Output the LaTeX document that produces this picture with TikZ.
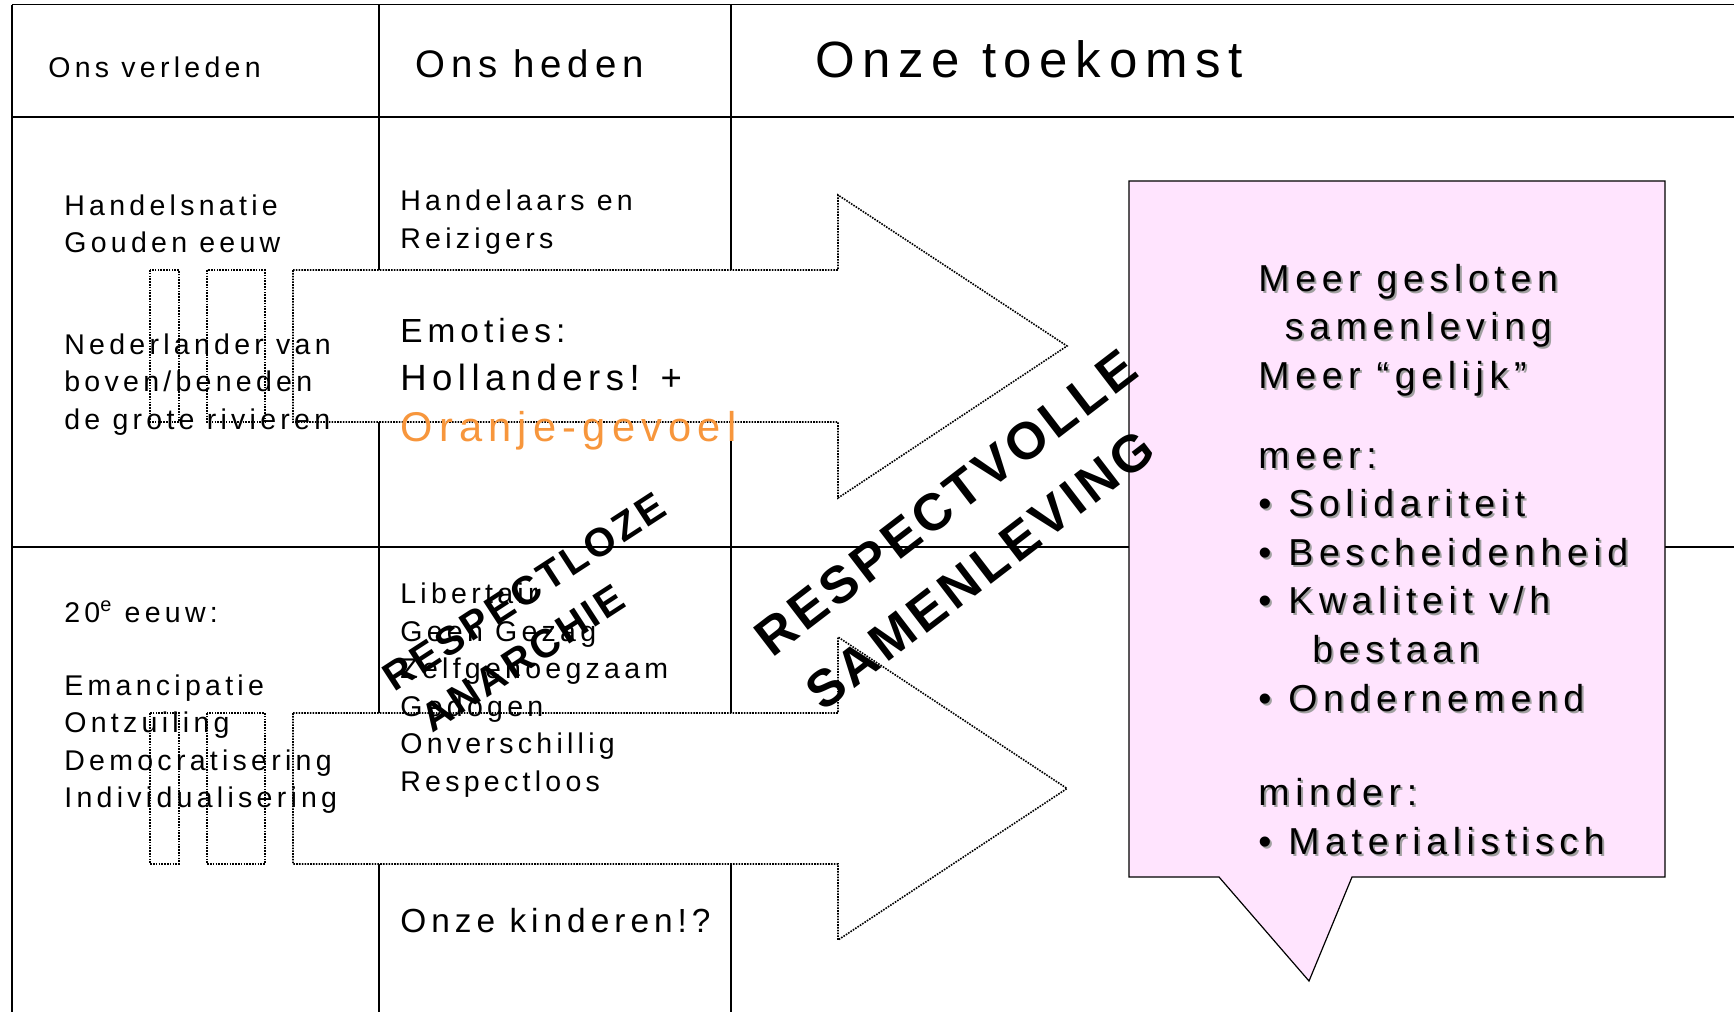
\documentclass[tikz,border=0pt]{standalone}
\usepackage{fontspec}
\setmainfont{Liberation Sans}[LetterSpace=15]
\usepackage{xcolor}

\definecolor{pinkbg}{RGB}{255,228,254}
\definecolor{oranje}{RGB}{247,150,60}
\definecolor{shadowgray}{RGB}{160,160,160}

\newcommand{\bul}{\makebox[15pt][l]{•}}
\newcommand{\shadowline}[4]{%
  \node[pinktxt,text=shadowgray] at (#2+2,#3+2) {#4};
  \node[pinktxt] (#1) at (#2,#3) {#4};}

\tikzset{
  tabline/.style={line width=0.75pt},
  dotbox/.style={draw, fill=white, line width=0.8pt, dash pattern=on 0.8pt off 0.6pt},
  txt/.style={anchor=base west, inner sep=0pt, font=\fontsize{14.25}{17}\selectfont},
  bigtxt/.style={anchor=base west, inner sep=0pt, font=\fontsize{18.25}{22}\selectfont},
  pinktxt/.style={anchor=base west, inner sep=0pt, font=\fontsize{18.75}{22}\selectfont},
  slogan/.style={inner sep=0pt, font=\fontsize{26}{30}\selectfont\bfseries\addfontfeature{LetterSpace=8}},
  sloganlow/.style={inner sep=0pt, font=\fontsize{20}{24}\selectfont\bfseries\addfontfeature{LetterSpace=8}},
}

\begin{document}
\begin{tikzpicture}[x=0.5pt,y=-0.5pt]
\useasboundingbox (0,0) rectangle (1734,1012);

%table
\draw[tabline] (12,4.5) -- (1734,4.5);
\draw[tabline] (12,117) -- (1734,117);
\draw[tabline] (12,547) -- (1734,547);
\draw[tabline] (12,4.5) -- (12,1012);
\draw[tabline] (379,4.5) -- (379,1012);
\draw[tabline] (731,4.5) -- (731,1012);

%upper arrow
\draw[dotbox] (150,270) rectangle (179,422);
\draw[dotbox] (207,270) rectangle (265,422);
\draw[dotbox] (293,270) -- (838,270) -- (838,195) -- (1067,346) -- (838,498) -- (838,422) -- (293,422) -- cycle;

%lower arrow
\draw[dotbox] (150,713) rectangle (179,864);
\draw[dotbox] (207,713) rectangle (265,864);
\draw[dotbox] (293,713) -- (838,713) -- (838,637) -- (1067,788.5) -- (838,940) -- (838,864) -- (293,864) -- cycle;

%callout
\draw[fill=pinkbg, line width=0.6pt] (1129,181) -- (1665,181) -- (1665,877) -- (1352,877) -- (1309,981) -- (1219,877) -- (1129,877) -- cycle;

%headers
\node[txt] (verleden) at (48,77) {Ons verleden};
\node[txt, font=\fontsize{19.2}{23}\selectfont] (heden) at (415,77) {Ons heden};
\node[txt, font=\fontsize{25.5}{30}\selectfont] (toekomst) at (815,77) {Onze toekomst};

%verleden
\node[txt] (handel) at (64,215) {Handelsnatie};
\node[txt] (gouden) at (64,252) {Gouden eeuw};
\node[txt] (nederl) at (64,354) {Nederlander van};
\node[txt] (boven) at (64,391.5) {boven/beneden};
\node[txt] (rivier) at (64,429) {de grote rivieren};
\node[txt] (eeuw) at (64,622) {20\textsuperscript{e} eeuw:};
\node[txt] (eman) at (64,695) {Emancipatie};
\node[txt] (ontz) at (64,732.6) {Ontzuiling};
\node[txt] (demo) at (64,770.2) {Democratisering};
\node[txt] (indiv) at (64,807.8) {Individualisering};

%heden
\node[txt] (handelaars) at (400,210.5) {Handelaars en};
\node[txt] (reiz) at (400,248) {Reizigers};
\node[bigtxt, font=\fontsize{16.7}{20}\selectfont] (emo) at (400,342) {Emoties:};
\node[bigtxt] (holl) at (400,390) {Hollanders! +};
\node[bigtxt, text=oranje, font=\fontsize{20.8}{24}\selectfont] (oranje) at (400,441) {Oranje-gevoel};
\node[txt] (libert) at (400,603.5) {Libertair};
\node[txt] (gezag) at (400,641) {Geen Gezag};
\node[txt] (zelf) at (400,678.5) {Zelfgenoegzaam};
\node[txt] (gedogen) at (400,716) {Gedogen};
\node[txt] (onversch) at (400,753.5) {Onverschillig};
\node[txt] (respl) at (400,791) {Respectloos};
\node[txt, font=\fontsize{16.7}{20}\selectfont] (kind) at (400,932) {Onze kinderen!?};

%toekomst
\shadowline{p1}{1258}{291}{Meer gesloten}
\shadowline{p2}{1284.5}{339.6}{samenleving}
\shadowline{p3}{1258}{388.2}{Meer “gelijk”}
\shadowline{p4}{1258}{468}{meer:}
\shadowline{p5}{1258}{516.6}{\bul Solidariteit}
\shadowline{p6}{1258}{565.2}{\bul Bescheidenheid}
\shadowline{p7}{1258}{613.8}{\bul Kwaliteit v/h}
\shadowline{p8}{1312}{662.4}{bestaan}
\shadowline{p9}{1258}{711}{\bul Ondernemend}
\shadowline{p10}{1258}{805}{minder:}
\shadowline{p11}{1258}{854}{\bul Materialistisch}

%slogans
\node[slogan, rotate=37.5] (respvol) at (946,502.5) {RESPECTVOLLE};
\node[slogan, rotate=37.5] (samen) at (980,570) {SAMENLEVING};
\node[sloganlow, rotate=33] (resploos) at (524,592) {RESPECTLOZE};
\node[sloganlow, rotate=33] (anarchie) at (523,658) {ANARCHIE};
\end{tikzpicture}
\end{document}
